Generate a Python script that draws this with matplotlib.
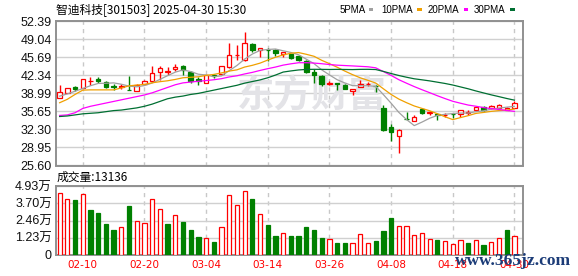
import numpy as np
import matplotlib.pyplot as plt
from matplotlib.patches import Rectangle

# ---- data ----
dates = ["02-05", "02-06", "02-07", "02-10", "02-11", "02-12", "02-13", "02-14",
         "02-17", "02-18", "02-19", "02-20", "02-21", "02-24", "02-25", "02-26",
         "02-27", "02-28", "03-03", "03-04", "03-05", "03-06", "03-07", "03-10",
         "03-11", "03-12", "03-13", "03-14", "03-17", "03-18", "03-19", "03-20",
         "03-21", "03-24", "03-25", "03-26", "03-27", "03-28", "03-31", "04-01",
         "04-02", "04-03", "04-07", "04-08", "04-09", "04-10", "04-11", "04-14",
         "04-15", "04-16", "04-17", "04-18", "04-21", "04-22", "04-23", "04-24",
         "04-25", "04-28", "04-29", "04-30"]

opens = [38.18, 39.10, 40.20, 40.02, 41.30, 41.68, 41.06, 40.30, 40.25, 39.71,
         39.41, 40.82, 41.25, 42.96, 43.00, 43.52, 44.13, 42.90, 41.68, 40.94,
         42.45, 42.66, 43.82, 46.10, 45.23, 48.11, 47.07, 47.10, 47.07, 46.27,
         46.34, 45.97, 45.05, 43.03, 42.29, 40.80, 40.90, 40.63, 39.41, 40.20,
         40.70, 40.40, 36.22, 32.66, 31.13, 34.22, 33.89, 36.04, 35.40, 35.20,
         35.00, 35.20, 35.12, 35.40, 35.85, 36.52, 36.22, 36.34, 35.91, 36.34]
closes = [39.22, 40.02, 39.78, 41.68, 41.38, 41.37, 40.20, 40.15, 40.35, 39.60,
          40.63, 41.25, 42.78, 43.70, 43.10, 43.88, 43.27, 41.30, 41.25, 42.35,
          42.30, 44.00, 46.15, 46.20, 48.30, 47.07, 47.38, 47.00, 46.46, 46.64,
          45.54, 45.23, 42.90, 42.35, 40.82, 40.85, 40.80, 39.80, 39.84, 40.76,
          40.80, 40.30, 32.17, 31.87, 32.23, 34.15, 34.63, 35.42, 35.45, 35.00,
          35.05, 35.15, 35.85, 35.45, 36.46, 35.91, 36.65, 36.83, 36.34, 37.26]
highs = [40.63, 40.05, 40.39, 41.70, 41.98, 41.98, 41.25, 40.76, 40.76, 42.29,
         40.80, 41.55, 44.07, 44.07, 43.82, 44.50, 44.31, 43.09, 42.04, 42.40,
         42.65, 44.00, 48.30, 47.99, 50.32, 48.30, 47.50, 47.50, 47.25, 46.77,
         46.40, 46.15, 45.23, 43.52, 42.35, 41.25, 40.94, 40.70, 39.90, 41.55,
         41.12, 40.63, 36.77, 33.40, 32.30, 35.61, 34.93, 36.10, 35.73, 35.42,
         35.42, 35.42, 35.90, 35.85, 36.50, 36.60, 36.80, 36.95, 36.40, 37.57]
lows = [38.06, 39.05, 39.41, 40.00, 40.63, 40.88, 40.02, 39.59, 39.83, 39.55,
        39.35, 40.63, 41.20, 41.55, 42.47, 43.09, 42.35, 40.94, 40.63, 40.90,
        41.90, 42.60, 43.80, 45.23, 45.05, 46.77, 45.72, 45.05, 46.03, 45.85,
        45.36, 45.05, 42.85, 40.94, 40.33, 40.51, 39.71, 39.75, 38.79, 40.15,
        40.33, 39.22, 32.10, 30.21, 28.00, 34.00, 33.85, 35.24, 34.99, 34.00,
        34.63, 34.50, 34.63, 34.99, 35.80, 35.73, 36.10, 36.30, 35.85, 36.30]

ma5 = [38.49, 38.90, 39.40, 39.90, 40.42, 40.85, 40.88, 40.95, 40.70, 40.35,
       40.22, 40.45, 40.92, 41.59, 42.29, 42.94, 43.35, 43.05, 42.56, 42.41,
       42.10, 42.25, 43.22, 44.18, 45.37, 46.31, 46.99, 47.16, 47.24, 46.91,
       46.60, 46.17, 45.35, 44.53, 43.37, 42.43, 41.54, 40.93, 40.43, 40.42,
       40.40, 40.30, 38.77, 37.17, 35.47, 34.14, 33.01, 33.66, 34.38, 34.90,
       35.12, 35.25, 35.34, 35.34, 35.59, 35.76, 36.06, 36.26, 36.44, 36.60]
ma10 = [37.26, 37.90, 38.80, 39.60, 39.65, 39.65, 39.65, 39.65, 40.00, 40.40,
        40.54, 40.66, 40.96, 41.17, 41.34, 41.59, 41.90, 41.99, 42.08, 42.35,
        42.52, 42.80, 43.14, 43.37, 43.89, 44.21, 44.62, 45.19, 45.71, 46.14,
        46.46, 46.58, 46.26, 45.89, 45.14, 44.52, 43.86, 43.14, 42.48, 41.89,
        41.42, 40.92, 39.85, 38.80, 37.94, 37.27, 36.66, 36.21, 35.77, 35.22,
        34.65, 34.13, 34.50, 34.86, 35.28, 35.46, 35.66, 35.80, 35.89, 36.10]
ma20 = [34.90, 35.00, 35.40, 36.20, 36.60, 36.90, 37.20, 37.50, 37.80, 38.10,
        38.40, 38.70, 39.10, 39.60, 40.10, 40.60, 40.95, 41.10, 41.25, 41.38,
        41.53, 41.73, 42.05, 42.27, 42.61, 42.90, 43.26, 43.59, 43.89, 44.25,
        44.49, 44.69, 44.70, 44.63, 44.51, 44.36, 44.24, 44.17, 44.10, 44.02,
        43.94, 43.75, 43.05, 42.34, 41.54, 40.89, 40.26, 39.68, 39.13, 38.56,
        38.03, 37.53, 37.17, 36.83, 36.61, 36.36, 36.16, 36.01, 35.83, 35.66]
ma30 = [34.70, 34.80, 35.00, 35.20, 35.30, 35.40, 35.60, 35.80, 35.90, 36.10,
        36.30, 36.60, 37.00, 37.50, 38.00, 38.30, 38.50, 38.80, 39.00, 39.30,
        39.60, 39.90, 40.20, 40.50, 40.90, 41.20, 41.50, 41.90, 42.40, 42.96,
        43.17, 43.35, 43.45, 43.47, 43.46, 43.44, 43.46, 43.44, 43.42, 43.46,
        43.47, 43.43, 43.08, 42.69, 42.32, 42.00, 41.71, 41.52, 41.32, 41.08,
        40.84, 40.55, 40.20, 39.85, 39.45, 39.08, 38.72, 38.39, 38.05, 37.74]

# volume in units of 万 (10k)
volume = [4.43, 3.99, 3.94, 4.35, 3.22, 3.01, 2.21, 1.78, 1.97, 3.51,
          2.40, 2.26, 3.99, 3.27, 2.21, 2.84, 2.36, 1.78, 1.27, 1.18,
          0.91, 1.97, 4.28, 3.56, 4.57, 4.02, 2.91, 2.14, 1.35, 1.54,
          1.35, 1.35, 2.00, 1.78, 1.20, 1.11, 0.84, 0.84, 0.82, 1.47,
          0.82, 0.99, 1.71, 2.65, 2.04, 2.04, 1.39, 1.54, 1.11, 1.06,
          0.96, 0.75, 1.03, 0.84, 1.03, 0.70, 0.89, 1.18, 1.78, 1.3136]

price_ticks = [25.60, 28.95, 32.30, 35.65, 38.99, 42.34, 45.69, 49.04, 52.39]
vol_ticks = [0, 1.23, 2.46, 3.70, 4.93]
vol_tick_labels = ["0", "1.23万", "2.46万", "3.70万", "4.93万"]
date_tick_every = 8
date_tick_start = 3

RED = "#ff0000"
GREEN = "#008000"
MA_COLORS = ["#a0a0a0", "#f0a000", "#ff00ff", "#006f32"]
CJK = ["Noto Sans CJK SC", "DejaVu Sans"]
NUM = ["Liberation Sans", "Noto Sans CJK SC"]

W, H = 578, 276
fig = plt.figure(figsize=(W / 100, H / 100), dpi=100)


def fx(px):
    return px / W


def fy(py):
    return 1 - py / H


# panel geometry in pixels
L, R = 56, 522.7
MT, MB = 21.3, 165.5
VT, VB = 186.3, 254.7

ax = fig.add_axes([fx(L), fy(MB), (R - L) / W, (MB - MT) / H])
av = fig.add_axes([fx(L), fy(VB), (R - L) / W, (VB - VT) / H])

o = np.array(opens)
c = np.array(closes)
x = np.arange(len(c))
up = c >= o
cols = np.where(up, RED, GREEN)
faces = np.where(up, "white", GREEN)

# candles
ax.vlines(x, lows, highs, colors=cols, lw=1, zorder=3)
ax.bar(x, np.abs(c - o), bottom=np.minimum(o, c), width=0.58,
       facecolor=faces, edgecolor=cols, lw=0.9, zorder=4)

for ma, col in zip([ma5, ma10, ma20, ma30], MA_COLORS):
    ax.plot(x, ma, color=col, lw=0.9, zorder=5)

# volume colours follow close vs previous close
prev = np.concatenate([[c[0] - 1], c[:-1]])
vup = c > prev
av.bar(x, volume, width=0.55, facecolor=np.where(vup, "white", GREEN),
       edgecolor=np.where(vup, RED, GREEN), lw=0.9, zorder=3)

xlo = -0.47
xhi = len(c) - 1 + 1.07
tick_idx = list(range(date_tick_start, len(dates), date_tick_every))

for a in (ax, av):
    a.set_xlim(xlo, xhi)
    a.set_xticks(tick_idx)
    a.grid(axis="x", color="#c8c8c8", lw=1, linestyle=(0, (3, 3)), zorder=0)
    a.grid(axis="y", color="#d0d0d0", lw=1, zorder=0)
    a.set_axisbelow(True)
    for s in a.spines.values():
        s.set_color("#909090")
        s.set_linewidth(1.4)
    a.tick_params(length=0)

ax.set_ylim(price_ticks[0], price_ticks[-1])
ax.set_yticks(price_ticks)
ax.set_yticklabels([f"{t:.2f}" for t in price_ticks], fontsize=9,
                   family=NUM, color="#111111")
ax.tick_params(axis="y", pad=3)
ax.set_xticklabels([])

av.set_ylim(0, vol_ticks[-1])
av.set_yticks(vol_ticks)
av.set_yticklabels(vol_tick_labels, fontsize=9, family=NUM, color="#111111")
av.tick_params(axis="y", pad=3)
av.set_xticklabels([dates[i] for i in tick_idx], fontsize=7.5, color=RED)
av.tick_params(axis="x", pad=4)

# watermark in the price panel
ax.text((312 - L) / (R - L), 1 - (96 - MT) / (MB - MT), "东方财富",
        transform=ax.transAxes, ha="center", va="center", fontsize=27,
        fontweight="bold", family=CJK, color="#e3e3e7", zorder=1)

# header
fig.text(fx(55.6), fy(9.7), "智迪科技[301503] 2025-04-30 15:30", fontsize=8.5,
         family=CJK, va="center", ha="left", color="black")

legend_items = [("5PMA", 340, 368.5), ("10PMA", 381.5, 417.4),
                ("20PMA", 427.8, 463.7), ("30PMA", 474, 510.4)]
for (label, tx, sx), col in zip(legend_items, MA_COLORS):
    fig.text(fx(tx), fy(9.7), label, fontsize=7, family=NUM, va="center",
             ha="left", color="black")
    fig.add_artist(Rectangle((fx(sx), fy(11.3)), 4.5 / W, 3.2 / H,
                             transform=fig.transFigure, color=col, lw=0))

fig.text(fx(57), fy(177.7), f"成交量:{round(volume[-1] * 10000)}", fontsize=8.5,
         family=CJK, va="center", ha="left", color="black")

fig.text(fx(454.7), fy(261), "www.365jz.com", fontsize=12.5,
         family="Liberation Serif", fontweight="bold", color="#1c3c78",
         va="center", ha="left", zorder=10)

fig.savefig("out.png", dpi=100)
